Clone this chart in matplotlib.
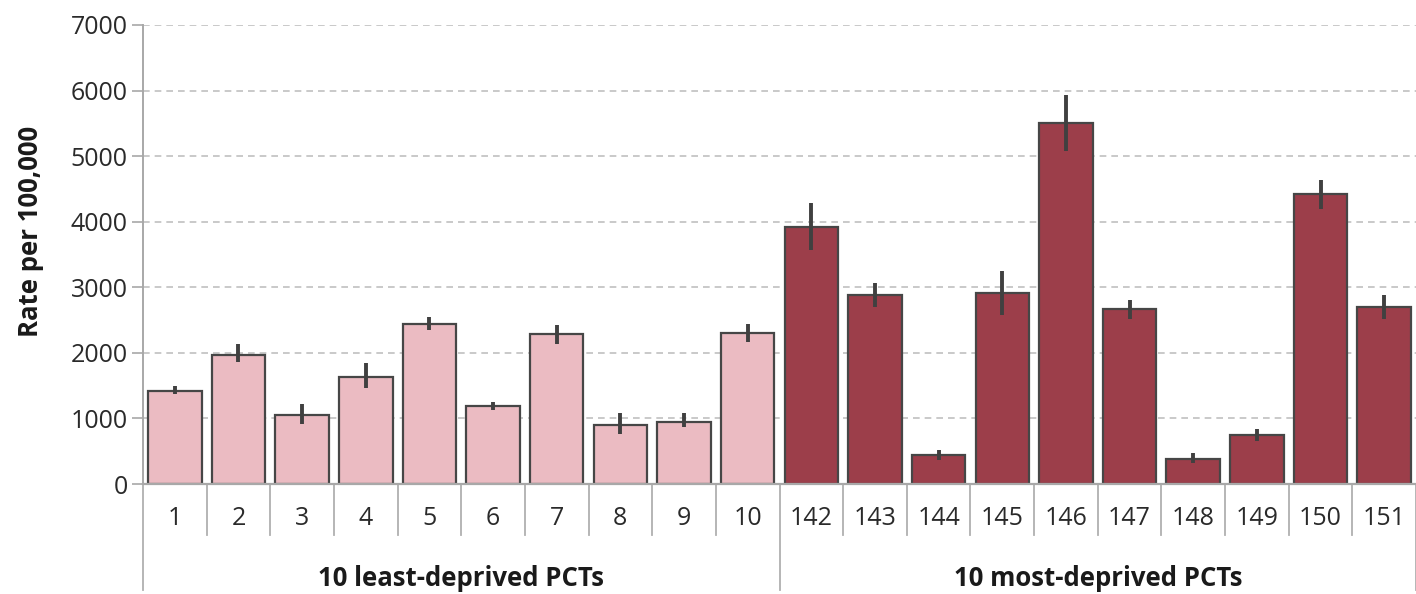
import matplotlib
matplotlib.use("Agg")
import matplotlib.pyplot as plt
import matplotlib.transforms as mtransforms
import numpy as np

# ---- data ----
least_labels = ["1", "2", "3", "4", "5", "6", "7", "8", "9", "10"]
least_values = [1415, 1965, 1055, 1630, 2440, 1190, 2283, 900, 950, 2308]
least_low = [1365, 1855, 915, 1460, 2350, 1125, 2140, 760, 865, 2170]
least_high = [1500, 2130, 1220, 1840, 2545, 1245, 2420, 1085, 1085, 2445]

most_labels = ["142", "143", "144", "145", "146", "147", "148", "149", "150", "151"]
most_values = [3924, 2878, 437, 2908, 5510, 2674, 386, 747, 4418, 2695]
most_low = [3570, 2705, 366, 2577, 5078, 2521, 315, 656, 4190, 2521]
most_high = [4290, 3070, 518, 3253, 5932, 2806, 468, 834, 4636, 2887]

group_names = ["10 least-deprived PCTs", "10 most-deprived PCTs"]
y_ticks = [0, 1000, 2000, 3000, 4000, 5000, 6000, 7000]
y_label = "Rate per 100,000"

plt.rcParams['font.family'] = ['Open Sans', 'DejaVu Sans']

W, H = 1416, 594
fig = plt.figure(figsize=(W / 100, H / 100), dpi=100)
ax_left, ax_right, ax_top, ax_bottom = 143, 1416, 25, 484
ax = fig.add_axes([ax_left / W, 1 - ax_bottom / H, (ax_right - ax_left) / W, (ax_bottom - ax_top) / H])

labels = least_labels + most_labels
values = np.array(least_values + most_values)
low = np.array(least_low + most_low)
high = np.array(least_high + most_high)
n1 = len(least_labels)
n = len(labels)
x = np.arange(n) + 0.5
colors = ["#EBBBC2"] * n1 + ["#9C3E4A"] * (n - n1)

ax.bar(x, values, width=0.84, color=colors, edgecolor="#464646", linewidth=1.6, zorder=3)
ax.errorbar(x, values, yerr=[values - low, high - values], fmt="none",
            ecolor="#404040", elinewidth=2.8, capsize=0, zorder=4)

ax.set_xlim(0, n)
ax.set_ylim(0, 7000)
ax.set_yticks(y_ticks)
ax.set_yticklabels([str(t) for t in y_ticks], fontsize=18, color="#2a2a2a")
ax.tick_params(axis="y", length=8, width=1.2, color="#a8a8a8", pad=3)
for t in y_ticks[1:]:
    ax.axhline(t, color="#c0c0c0", linestyle=(0, (4, 3)), linewidth=1.2, zorder=1)

ax.set_xticks(x)
ax.set_xticklabels(labels, fontsize=18, color="#2a2a2a")
ax.tick_params(axis="x", length=0, pad=16)

for s in ["top", "right"]:
    ax.spines[s].set_visible(False)
ax.spines["left"].set_color("#a8a8a8")
ax.spines["left"].set_linewidth(1.4)
ax.spines["bottom"].set_color("#a8a8a8")
ax.spines["bottom"].set_linewidth(1.6)
ax.spines["bottom"].set_zorder(5)

# separators below axis
trans = mtransforms.blended_transform_factory(ax.transData, ax.transAxes)
ax_h = ax_bottom - ax_top
short = -(535 - ax_bottom) / ax_h
long_ = -(590 - ax_bottom) / ax_h
for b in range(0, n + 1):
    y0 = long_ if b in (0, n1, n) else short
    ax.plot([b, b], [0, y0], transform=trans, color="#b0b0b0", linewidth=1.3, clip_on=False)

# group labels
ylab = -(579 - ax_bottom) / ax_h
ax.text(n1 / 2, ylab, group_names[0], transform=trans, ha="center", va="center",
        fontsize=18.5, fontweight="bold", color="#1a1a1a")
ax.text(n1 + (n - n1) / 2, ylab, group_names[1], transform=trans, ha="center", va="center",
        fontsize=18.5, fontweight="bold", color="#1a1a1a")

fig.text(31 / W, 1 - 231 / H, y_label, rotation=90, ha="center", va="center",
         fontsize=18.5, fontweight="bold", color="#1a1a1a")

fig.savefig("out.png", dpi=100)
